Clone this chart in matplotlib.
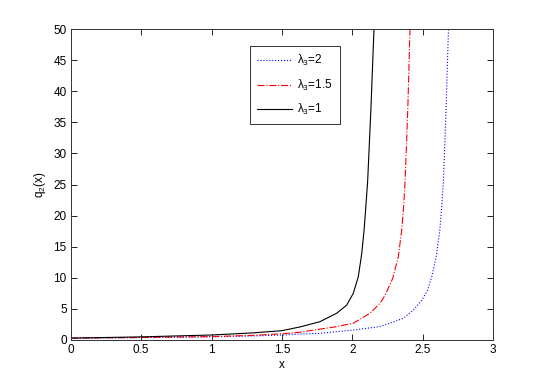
import matplotlib
matplotlib.use("Agg")
import matplotlib.pyplot as plt

plt.rcParams['font.family'] = ['Liberation Sans', 'DejaVu Sans']
plt.rcParams['mathtext.fontset'] = 'custom'
plt.rcParams['mathtext.rm'] = 'Liberation Sans'
plt.rcParams['mathtext.it'] = 'Liberation Sans:italic'

# lambda_3 = 2 (blue dotted)
x_l2 = [0, 0.5, 1.0, 1.3, 1.5, 1.628, 1.77, 2.006, 2.196, 2.267, 2.362,
        2.433, 2.493, 2.533, 2.565, 2.595, 2.62, 2.634, 2.646, 2.665, 2.682]
y_l2 = [0.3, 0.38, 0.5, 0.65, 0.8, 0.96, 1.07, 1.6, 2.15, 2.7, 3.5,
        4.8, 6.4, 8.0, 10.3, 13.4, 17.5, 21.4, 25.5, 37, 50]

# lambda_3 = 1.5 (red dash-dot)
x_l15 = [0, 0.5, 1.0, 1.3, 1.5, 1.628, 1.77, 1.888, 2.006, 2.125, 2.196,
         2.232, 2.286, 2.326, 2.35, 2.362, 2.374, 2.393, 2.409]
y_l15 = [0.3, 0.4, 0.55, 0.75, 1.0, 1.25, 1.75, 2.15, 2.7, 4.3, 5.9,
         7.2, 9.9, 13.4, 17.7, 20.9, 25.5, 37, 50]

# lambda_3 = 1 (black solid)
x_l1 = [0, 0.5, 1.0, 1.3, 1.5, 1.628, 1.77, 1.888, 1.959, 2.006, 2.042,
        2.066, 2.083, 2.097, 2.108, 2.131, 2.153]
y_l1 = [0.3, 0.5, 0.8, 1.15, 1.5, 2.1, 2.95, 4.3, 5.6, 7.5, 10.2,
        13.9, 17.7, 22.0, 25.5, 37, 50]

labels = ['λ$_\\mathregular{3}$=2', 'λ$_\\mathregular{3}$=1.5', 'λ$_\\mathregular{3}$=1']
xticks = [0, 0.5, 1, 1.5, 2, 2.5, 3]
yticks = list(range(0, 51, 5))


def main():
    fig = plt.figure(figsize=(5.45, 3.82), dpi=100)
    ax = fig.add_axes([0.130, 0.110, 0.775, 0.814])

    ax.plot(x_l2, y_l2, color=(0, 0, 1), ls=':', lw=0.8, label=labels[0])
    ax.plot(x_l15, y_l15, color=(1, 0, 0), ls='-.', lw=0.8, label=labels[1])
    ax.plot(x_l1, y_l1, color='black', ls='-', lw=0.8, label=labels[2])

    ax.set_xlim(0, 3)
    ax.set_ylim(0, 50)
    ax.set_xticks(xticks)
    ax.set_xticklabels(['0', '0.5', '1', '1.5', '2', '2.5', '3'])
    ax.set_yticks(yticks)
    ax.tick_params(direction='in', top=True, right=True, length=4, width=0.6,
                   labelsize=8.5, pad=3)
    for s in ax.spines.values():
        s.set_linewidth(0.7)
        s.set_color('#333333')

    ax.set_xlabel('x', fontsize=8.5, labelpad=2)
    ax.set_ylabel('q$_\\mathregular{2}$(x)', fontsize=8.5, labelpad=4)

    leg = ax.legend(loc='upper left', bbox_to_anchor=(0.424, 0.945),
                    borderaxespad=0, fontsize=8.5, fancybox=False,
                    handlelength=3.0, handletextpad=0.4, labelspacing=0.8,
                    borderpad=0.6)
    leg.get_frame().set_edgecolor('black')
    leg.get_frame().set_linewidth(0.7)

    fig.savefig("out.png", dpi=100)


if __name__ == "__main__":
    main()
